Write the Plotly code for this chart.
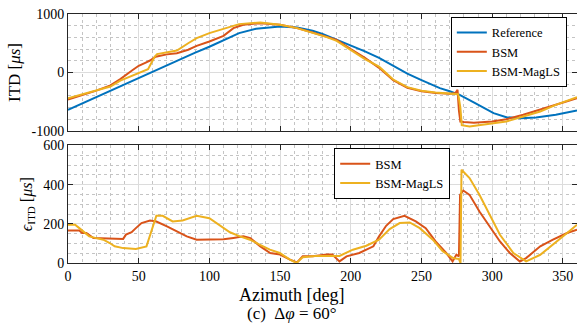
import plotly.graph_objects as go

# ---------------- data ----------------
az_ref = [0, 10, 20, 30, 40, 50, 60, 70, 80, 90, 100, 110, 121, 133, 150, 162, 173, 180, 190, 200,
          210, 220, 230, 240, 250, 263, 270, 277, 286, 294, 301, 310, 320, 331, 345, 360]
itd_ref = [-640, -530, -420, -310, -200, -90, 20, 130, 240, 340, 440, 550, 673, 747, 786, 769, 715, 660, 560, 470,
           360, 250, 110, -20, -130, -267, -320, -382, -496, -610, -695, -763, -780, -769, -723, -650]

az_bsm = [0, 10, 20, 30, 37, 45, 50, 55, 58, 62, 70, 77, 85, 91, 100, 110, 117, 124, 136, 150,
          162, 173, 183, 190, 200, 210, 220, 230, 240, 250, 260, 270, 274, 275.5, 276.5, 277.5, 280, 287, 300, 310,
          322, 334, 345, 360]
itd_bsm = [-460, -390, -310, -220, -113, 30, 115, 170, 205, 270, 310, 331, 390, 456, 530, 627, 759, 815, 844, 815,
           759, 684, 615, 559, 400, 250, 80, -130, -260, -320, -350, -365, -350, -296, -650, -837, -845, -860, -837, -797,
           -723, -638, -552, -440]

az_mag = [0, 10, 20, 30, 37, 45, 50, 56.6, 58, 60, 61.4, 63, 70, 77, 85, 91, 100, 110, 121, 136,
          150, 162, 173, 183, 190, 200, 210, 220, 230, 240, 250, 260, 270, 276, 277.5, 278.5, 284, 298, 310, 322,
          334, 345, 360]
itd_mag = [-440, -375, -310, -240, -137, -60, -10, 58, 120, 210, 274, 314, 345, 376, 500, 588, 673, 741, 827, 855,
           815, 759, 684, 605, 540, 390, 230, 100, -120, -250, -310, -340, -360, -370, -600, -900, -923, -877, -837, -752,
           -667, -552, -420]

az_err_bsm = [0, 8, 10, 13, 18, 39, 41, 45, 48, 52, 58, 62.5, 70, 77, 84, 91, 98, 105, 110, 117,
              124, 129, 136, 143, 150, 157, 162, 166, 173, 183, 187, 192, 197, 206, 216, 220, 225, 230, 238, 246,
              253, 260, 267.5, 272, 274.7, 276.5, 277.3, 279.6, 284, 291, 298, 305.5, 312.5, 319.6, 324, 334, 343, 353, 360]
err_bsm = [166, 166, 153, 153, 127, 123, 145, 157, 178, 204, 217, 212, 187, 161, 136, 119, 119, 119, 121, 128,
           136, 127, 85, 51, 43, 17, 3, 34, 34, 43, 43, 8, 34, 51, 85, 136, 190, 224, 241, 212,
           178, 110, 51, 8, 43, 34, 348, 370, 348, 263, 187, 110, 51, 8, 25, 85, 119, 153, 170]

az_err_mag = [0, 5, 8, 15, 20, 25, 29.5, 33, 39, 48, 55.5, 57.8, 60, 62.5, 67, 74, 81, 88, 91, 100,
              105, 110, 114.5, 121.6, 128.7, 135.8, 142.8, 149.8, 157, 161.6, 166, 175, 183, 192, 201.5, 211, 220, 227.5, 234.6, 241.7,
              248.8, 258, 265, 272.4, 276.5, 277.6, 278.3, 284, 291, 298.4, 305.5, 315, 324, 334, 343, 353, 360]
err_mag = [195, 195, 178, 136, 127, 119, 102, 85, 76, 72, 85, 136, 195, 241, 241, 212, 217, 234, 241, 229,
           204, 183, 157, 136, 119, 93, 68, 51, 17, 0, 29, 36, 36, 36, 68, 88, 119, 173, 204, 207,
           178, 119, 60, 25, 20, 0, 476, 434, 348, 246, 144, 51, 8, 42, 93, 153, 195]

x_ticks = [0, 50, 100, 150, 200, 250, 300, 350]
itd_ticks = [-1000, 0, 1000]
itd_ticktext = ["-1000", "0", "1000"]
err_ticks = [0, 200, 400, 600]

# ---------------- style ----------------
BLUE, ORANGE, YELLOW = "#0072BD", "#D95319", "#EDB120"
FONT = "Liberation Serif, DejaVu Serif, serif"
AX = "#262626"
GRID = "#dcdcdc"
MINOR = "#c4c4c4"

fig = go.Figure()
fig.add_trace(go.Scatter(x=az_ref, y=itd_ref, name="Reference", mode="lines",
                         line=dict(color=BLUE, width=2), xaxis="x", yaxis="y", legend="legend"))
fig.add_trace(go.Scatter(x=az_bsm, y=itd_bsm, name="BSM", mode="lines",
                         line=dict(color=ORANGE, width=2), xaxis="x", yaxis="y", legend="legend"))
fig.add_trace(go.Scatter(x=az_mag, y=itd_mag, name="BSM-MagLS", mode="lines",
                         line=dict(color=YELLOW, width=2), xaxis="x", yaxis="y", legend="legend"))
fig.add_trace(go.Scatter(x=az_err_bsm, y=err_bsm, name="BSM", mode="lines",
                         line=dict(color=ORANGE, width=2), xaxis="x2", yaxis="y2", legend="legend2"))
fig.add_trace(go.Scatter(x=az_err_mag, y=err_mag, name="BSM-MagLS", mode="lines",
                         line=dict(color=YELLOW, width=2), xaxis="x2", yaxis="y2", legend="legend2"))

common_x = dict(range=[0, 360], tickvals=x_ticks, ticks="inside", ticklen=5, tickcolor=AX,
                showline=True, linecolor=AX, linewidth=1, mirror="ticks",
                showgrid=True, gridcolor=GRID, gridwidth=1, zeroline=False,
                minor=dict(dtick=10, tick0=0, showgrid=True, gridcolor=MINOR, griddash="dot", gridwidth=1),
                tickfont=dict(family=FONT, size=14, color="#000"), automargin=False)

fig.update_layout(
    width=577, height=327,
    margin=dict(l=68, r=0, t=14, b=64),
    paper_bgcolor="white", plot_bgcolor="white",
    font=dict(family=FONT, size=14, color="#000"),
    xaxis=dict(common_x, domain=[0, 1], anchor="y", showticklabels=False),
    yaxis=dict(domain=[0.530, 1], range=[-1000, 1000], tickvals=itd_ticks, ticktext=itd_ticktext,
               ticks="inside", ticklen=5, tickcolor=AX, showline=True, linecolor=AX, linewidth=1,
               mirror="ticks", showgrid=True, gridcolor=GRID, zeroline=False,
               minor=dict(dtick=200, tick0=0, showgrid=True, gridcolor=MINOR, griddash="dot", gridwidth=1),
               tickfont=dict(family=FONT, size=14), automargin=False,
               title=dict(text="ITD [<i>μs</i>]", font=dict(family=FONT, size=17), standoff=6)),
    xaxis2=dict(common_x, domain=[0, 1], anchor="y2"),
    yaxis2=dict(domain=[0, 0.472], range=[0, 600], tickvals=err_ticks,
                ticks="inside", ticklen=5, tickcolor=AX, showline=True, linecolor=AX, linewidth=1,
                mirror="ticks", showgrid=True, gridcolor=GRID, zeroline=False,
                minor=dict(dtick=50, tick0=0, showgrid=True, gridcolor=MINOR, griddash="dot", gridwidth=1),
                tickfont=dict(family=FONT, size=14), automargin=False,
                title=dict(text="<i>ϵ</i><sub>ITD</sub> [<i>μs</i>]", font=dict(family=FONT, size=16), standoff=6)),
    legend=dict(x=0.980, y=0.988, xanchor="right", yanchor="top", bgcolor="white",
                bordercolor="#000", borderwidth=1, font=dict(family=FONT, size=12.5),
                tracegroupgap=0, itemwidth=30),
    legend2=dict(x=0.523, y=0.461, xanchor="left", yanchor="top", bgcolor="white",
                 bordercolor="#000", borderwidth=1, font=dict(family=FONT, size=12.5),
                 tracegroupgap=0, itemwidth=30),
    showlegend=True,
)

fig.add_annotation(text="Azimuth [deg]", xref="paper", yref="paper", x=0.44, y=-0.127,
                   xanchor="center", yanchor="middle", showarrow=False,
                   font=dict(family=FONT, size=18, color="#000"))
fig.add_annotation(text="(c)  Δ<i>φ</i> = 60°", xref="paper", yref="paper", x=0.44, y=-0.204,
                   xanchor="center", yanchor="middle", showarrow=False,
                   font=dict(family=FONT, size=17, color="#000"))

fig.write_html("out.html", config={"displayModeBar": False},
               post_script="document.body.style.margin='0px';document.body.style.overflow='hidden';")
